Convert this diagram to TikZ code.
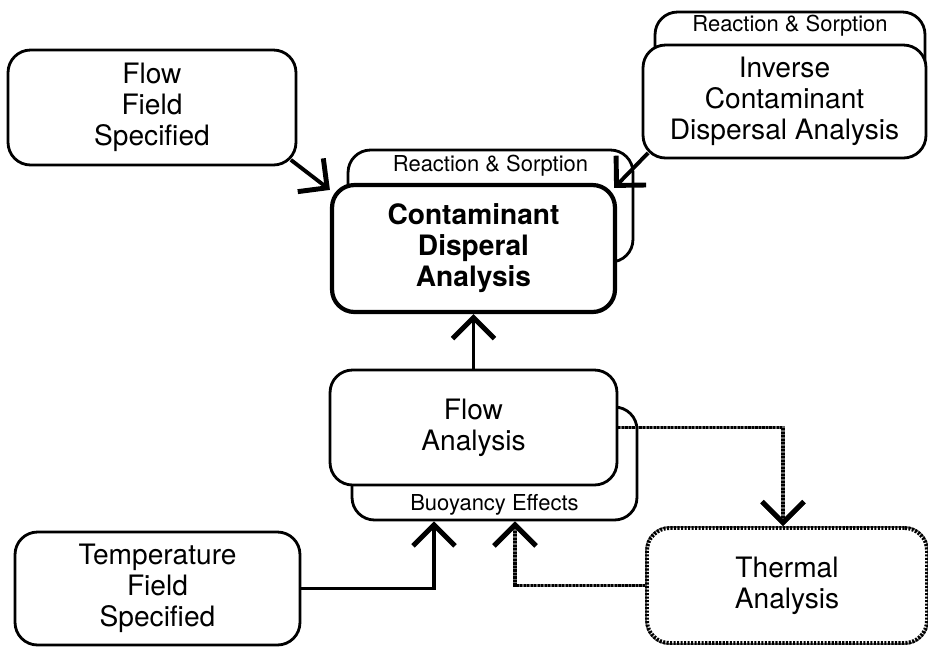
\documentclass[tikz,border=0pt]{standalone}
\usepackage{fontspec}
\setmainfont{TeX Gyre Heros}
\usetikzlibrary{calc}
\usetikzlibrary{arrows.meta}

\begin{document}
\begin{tikzpicture}[x=0.02cm, y=-0.02cm,
    box/.style={draw, fill=white, rounded corners=0.45cm, line width=1.6pt,
        inner sep=0pt, align=center, font=\fontsize{16}{17.6}\selectfont},
    tab/.style={inner sep=0pt, font=\fontsize{12.5}{14}\selectfont},
    link/.style={line width=2.2pt,
        -{Straight Barb[length=0.42cm, width=0.84cm, line width=2.8pt]}},
    heat/.style={line width=2.2pt, dash pattern=on 1.2pt off 0.8pt,
        preaction={draw=black!60, line width=2.2pt, solid}},
    heatlink/.style={heat,
        -{Straight Barb[length=0.42cm, width=0.84cm, line width=2.8pt]}}
]
    \useasboundingbox (0,0) rectangle (928,647);

    % Back tabs
    \node[box, minimum width=5.7cm, minimum height=2.24cm] (cdaback) at (490.5,206) {};
    \node[box, minimum width=5.4cm, minimum height=2.16cm] (icdaback) at (790,66) {};
    \node[box, minimum width=5.7cm, minimum height=2.26cm] (faback) at (494.5,463.5) {};

    \node[tab] (cdatag) at ([yshift=-0.34cm]cdaback.north) {Reaction \& Sorption};
    \node[tab] (icdatag) at ([yshift=-0.31cm]icdaback.north) {Reaction \& Sorption};
    \node[tab] (fatag) at ([yshift=0.34cm]faback.south) {Buoyancy Effects};

    % Front boxes
    \node[box, minimum width=5.76cm, minimum height=2.3cm] (ffs) at (152,107.5)
        {Flow\\Field\\Specified};
    \node[box, line width=2.4pt, minimum width=5.66cm, minimum height=2.54cm,
        font=\fontsize{16}{17.6}\selectfont\bfseries] (cda) at (473.5,248.5)
        {Contaminant\\Disperal\\Analysis};
    \node[box, minimum width=5.66cm, minimum height=2.26cm] (icda) at (784.5,101.5)
        {Inverse\\Contaminant\\Dispersal Analysis};
    \node[box, minimum width=5.74cm, minimum height=2.3cm] (fa) at (473.5,427.5)
        {Flow\\Analysis};
    \node[box, minimum width=5.7cm, minimum height=2.26cm] (tfs) at (157.5,588.5)
        {Temperature\\Field\\Specified};
    \node[box, heat, minimum width=5.6cm, minimum height=2.3cm] (ta) at (787,585.5)
        {Thermal\\Analysis};

    % Connectors
    \coordinate (buoyL) at ([xshift=-1.21cm]faback.south);
    \coordinate (buoyR) at ([xshift=0.41cm]faback.south);

    \draw[link] ([xshift=-0.13cm, yshift=0.13cm]ffs.south east)
        -- ([yshift=-0.14cm]cda.north west);
    \draw[link] ([xshift=0.13cm, yshift=0.13cm]icda.south west)
        -- ([xshift=-0.06cm, yshift=-0.1cm]cda.north east);
    \draw[link] (fa.north) -- (cda.south);
    \draw[link] (tfs.east) -| (buoyL);
    \draw[heatlink] (ta.west) -| (buoyR);
    \draw[heatlink] (fa.east) -| ([xshift=-0.08cm]ta.north);
\end{tikzpicture}
\end{document}
